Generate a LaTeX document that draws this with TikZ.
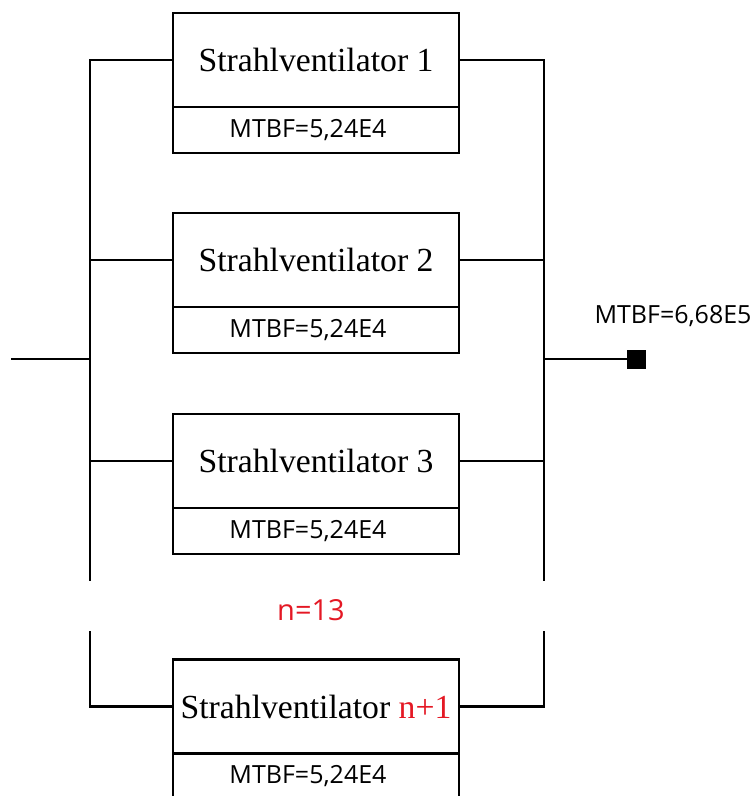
\documentclass[tikz,border=0pt]{standalone}
\usepackage{fontspec}
\setmainfont{Liberation Serif}
\newfontfamily\labelsans{Open Sans}
\definecolor{accentred}{RGB}{228,24,36}
\begin{document}
\begin{tikzpicture}[x=1pt,y=-1pt,
  wire/.style={line width=2.5pt,line cap=rect},
  fanbox/.style={draw,line width=2.5pt,minimum width=286pt,minimum height=94pt,inner sep=0pt,outer sep=0pt,
    font=\fontsize{33.7}{40}\selectfont},
  ratebox/.style={draw,line width=2.5pt,minimum width=286pt,minimum height=46pt,inner sep=0pt,outer sep=0pt,
    font=\labelsans\fontsize{25}{30}\selectfont},
  tag/.style={inner sep=0pt,font=\labelsans\fontsize{25}{30}\selectfont}]
\useasboundingbox (0,0) rectangle (755,796);

% fan units: name box above, failure figure below
\node[fanbox] (s1) at (316,60) {Strahlventilator 1};
\node[ratebox,anchor=north] (m1) at (s1.south) {\hspace*{-16pt}MTBF=5,24E4};
\node[fanbox] (s2) at (316,260) {Strahlventilator 2};
\node[ratebox,anchor=north] (m2) at (s2.south) {\hspace*{-16pt}MTBF=5,24E4};
\node[fanbox] (s3) at (316,461) {Strahlventilator 3};
\node[ratebox,anchor=north] (m3) at (s3.south) {\hspace*{-16pt}MTBF=5,24E4};
\node[fanbox] (s4) at (316,706.5) {Strahlventilator \textcolor{accentred}{n+1}};
\node[ratebox,anchor=north] (m4) at (s4.south) {\hspace*{-16pt}MTBF=5,24E4};

% left and right bus bars
\coordinate (L1) at (90,60);
\coordinate (L2) at (90,260);
\coordinate (L3) at (90,461);
\coordinate (Lcut) at (90,580);
\coordinate (Lres) at (90,632);
\coordinate (L4) at (90,706.5);
\coordinate (Lmid) at (90,359);
\coordinate (R1) at (544,60);
\coordinate (R2) at (544,260);
\coordinate (R3) at (544,461);
\coordinate (Rcut) at (544,580);
\coordinate (Rres) at (544,632);
\coordinate (R4) at (544,706.5);
\coordinate (Rmid) at (544,359);
\coordinate (src) at (12,359);

\draw[wire] (s1.west) -- (L1) -- (Lcut);
\draw[wire] (s2.west) -- (L2);
\draw[wire] (s3.west) -- (L3);
\draw[wire] (Lres) -- (L4) -- (s4.west);
\draw[wire] (s1.east) -- (R1) -- (Rcut);
\draw[wire] (s2.east) -- (R2);
\draw[wire] (s3.east) -- (R3);
\draw[wire] (Rres) -- (R4) -- (s4.east);

% system input and output
\draw[wire] (src) -- (Lmid);
\node[fill=black,minimum size=19pt,inner sep=0pt,outer sep=0pt] (sink) at (636.5,359) {};
\draw[wire] (Rmid) -- (sink.west);
\node[tag] (sysrate) at (673,316) {MTBF=6,68E5};

\node[tag,text=accentred,font=\labelsans\fontsize{29}{34}\selectfont] (count) at (311,610) {n=13};
\end{tikzpicture}
\end{document}
